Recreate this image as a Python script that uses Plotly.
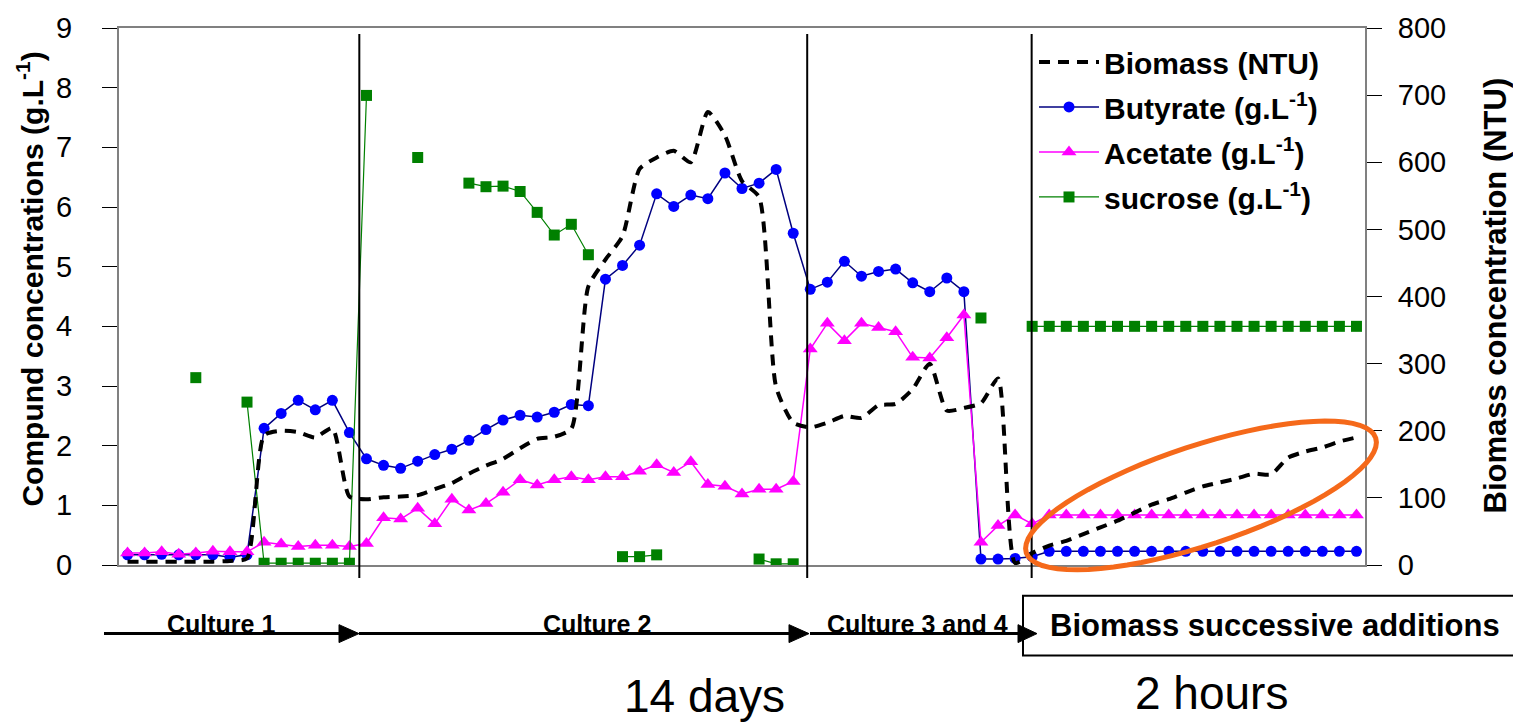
import math
import plotly.graph_objects as go

# ---------------- data ----------------
idx = list(range(73))

butyrate = [0.17, 0.17, 0.18, 0.17, 0.17, 0.17, 0.13, 0.17,
            2.29, 2.54, 2.76, 2.60, 2.76, 2.22, 1.78,
            1.67, 1.62, 1.74, 1.85, 1.94, 2.09, 2.27, 2.43, 2.51, 2.48, 2.56, 2.69, 2.67,
            4.79, 5.02, 5.36, 6.22, 6.01, 6.20, 6.14, 6.57, 6.31, 6.40, 6.63, 5.56,
            4.62, 4.74, 5.09, 4.84, 4.92, 4.96, 4.73, 4.58, 4.81, 4.58,
            0.10, 0.10, 0.11, 0.14] + [0.23] * 19

acetate = [0.20, 0.20, 0.22, 0.18, 0.20, 0.23, 0.22, 0.22,
           0.38, 0.35, 0.31, 0.33, 0.33, 0.31, 0.36,
           0.79, 0.77, 0.95, 0.69, 1.10, 0.92, 1.03, 1.22, 1.43, 1.34, 1.43,
           1.48, 1.43, 1.48, 1.48, 1.57, 1.68, 1.55, 1.73, 1.35, 1.32, 1.19, 1.27, 1.27, 1.40,
           3.62, 4.05, 3.76, 4.05, 3.98, 3.91, 3.48, 3.47, 3.81, 4.19,
           0.38, 0.66, 0.84, 0.69] + [0.84] * 19

biomass = [5, 5, 5, 5, 5, 5, 6, 10,
           193, 200, 198, 190, 204, 102,
           98, 101, 102, 104, 113, 122, 136, 148, 158, 174, 188, 191, 203,
           415, 455, 490, 590, 607, 617, 600, 675, 640, 572, 548, 265, 212,
           205, 212, 222, 219, 238, 240, 262, 300, 230, 234, 241, 278, 3, 18,
           29, 36, 46, 56, 66, 78, 90, 98, 108, 117, 123, 129, 136, 135, 160, 169, 175, 184, 190]

N = None
sucrose = [N, N, N, N, 3.14, N, N, 2.73,
           0.03, 0.03, 0.03, 0.03, 0.03, 0.03, 7.87,
           N, N, 6.83, N, N,
           6.40, 6.34, 6.35, 6.26, 5.91, 5.53, 5.71, 5.20,
           N, 0.14, 0.14, 0.17,
           N, N, N, N, N, 0.10, 0.02, 0.02,
           N, N, N, N, N, N, N, N, N, N,
           4.14, N, N] + [4.0] * 20

phase_breaks = [13.58, 39.82, 52.97]
left_ticks = list(range(0, 10))
right_ticks = list(range(0, 900, 100))

# ---------------- geometry helpers (decorations only) ----------------
W, H = 1513, 723
L, R, T, B = 119, 148, 25, 158
PW, PH = W - L - R, H - T - B
Y0 = T + PH


def px(xp):
    return (xp - L) / PW


def py(yp):
    return (Y0 - yp) / PH


FONT = "Liberation Sans, Arial, sans-serif"

fig = go.Figure()

fig.add_trace(go.Scatter(
    x=idx, y=biomass, yaxis="y2", name="<b>Biomass (NTU)</b>", mode="lines",
    legendgroup="g1",
    line=dict(color="black", width=4, dash="11px,8px", shape="spline", smoothing=0.6),
))
fig.add_trace(go.Scatter(
    x=idx, y=butyrate, name="<b>Butyrate (g.L<sup>-1</sup>)</b>", mode="lines+markers",
    legendgroup="g2",
    line=dict(color="#000080", width=1.5),
    marker=dict(symbol="circle", size=11, color="#0000FF"),
))
fig.add_trace(go.Scatter(
    x=idx, y=acetate, name="<b>Acetate (g.L<sup>-1</sup>)</b>", mode="lines+markers",
    legendgroup="g3",
    line=dict(color="#FF00FF", width=1.5),
    marker=dict(symbol="triangle-up", size=13, color="#FF00FF"),
))
fig.add_trace(go.Scatter(
    x=idx, y=sucrose, name="<b>sucrose (g.L<sup>-1</sup>)</b>", mode="lines+markers",
    legendgroup="g4",
    line=dict(color="#008000", width=1.2),
    marker=dict(symbol="square", size=11, color="#008000"),
))

shapes = []
for b in phase_breaks:
    shapes.append(dict(type="line", xref="x", yref="paper", x0=b, x1=b,
                       y0=py(31), y1=py(578), line=dict(color="black", width=2)))

# orange ellipse
cx, cy, a, bb, ang = 1201, 495, 184, 50, math.radians(-18.3)
pts = []
for k in range(73):
    t = 2 * math.pi * k / 72
    ex = a * math.cos(t)
    ey = bb * math.sin(t)
    xx = cx + ex * math.cos(ang) - ey * math.sin(ang)
    yy = cy + ex * math.sin(ang) + ey * math.cos(ang)
    pts.append((px(xx), py(yy)))
path = "M " + " L ".join(f"{p[0]:.5f},{p[1]:.5f}" for p in pts) + " Z"
shapes.append(dict(type="path", xref="paper", yref="paper", path=path,
                   line=dict(color="#F5691A", width=5)))

# arrows at the bottom
arrows = [(104, 339, 359), (359, 789, 809), (810, 1018, 1037)]
ya = 634
for x0, xh, xt in arrows:
    shapes.append(dict(type="line", xref="paper", yref="paper", x0=px(x0), x1=px(xh + 2),
                       y0=py(ya), y1=py(ya), line=dict(color="black", width=3)))
    tri = (f"M {px(xh):.5f},{py(ya - 9):.5f} L {px(xt):.5f},{py(ya):.5f} "
           f"L {px(xh):.5f},{py(ya + 9):.5f} Z")
    shapes.append(dict(type="path", xref="paper", yref="paper", path=tri,
                       fillcolor="black", line=dict(color="black", width=1)))

# box for successive additions
shapes.append(dict(type="rect", xref="paper", yref="paper", x0=px(1023), x1=px(1540),
                   y0=py(596), y1=py(656), line=dict(color="black", width=2),
                   fillcolor="white", layer="below"))


def ann(text, x, y, size, angle=0):
    return dict(text=text, textangle=angle, x=px(x), y=py(y), xref="paper", yref="paper",
                xanchor="center", yanchor="middle", showarrow=False,
                font=dict(size=size, family=FONT, color="black"))


annotations = [
    ann("<b>Compund concentrations (g.L<sup>-1</sup>)</b>", 30, 278, 30, -90),
    ann("<b>Biomass concentration (NTU)</b>", 1496, 294, 31, -90),
    ann("<b>Culture 1</b>", 221, 624, 25),
    ann("<b>Culture 2</b>", 597, 624, 25),
    ann("<b>Culture 3 and 4</b>", 918, 624, 25),
    ann("<b>Biomass successive additions</b>", 1275, 626, 31),
    ann("14 days", 704, 697, 46),
    ann("2 hours", 1211, 694, 46),
]

fig.update_layout(
    width=W, height=H,
    margin=dict(l=L, r=R, t=T, b=B),
    paper_bgcolor="white", plot_bgcolor="white",
    font=dict(family=FONT, color="black"),
    showlegend=True,
    legend=dict(x=px(1034), y=py(33), xanchor="left", yanchor="top",
                bgcolor="rgba(0,0,0,0)", font=dict(size=30, family=FONT, color="black"),
                itemwidth=60, tracegroupgap=3, traceorder="grouped"),
    xaxis=dict(range=[-0.5, 72.5], showgrid=False, zeroline=False, showticklabels=False,
               ticks="", showline=True, linecolor="#808080", linewidth=2, mirror=True),
    yaxis=dict(range=[0, 9], tickvals=left_ticks, showgrid=False, zeroline=False,
               ticks="outside", ticklen=15, tickcolor="black", tickwidth=1,
               showline=True, linecolor="#808080", linewidth=2, mirror=True,
               tickfont=dict(size=29, family=FONT, color="black"), ticklabelstandoff=24),
    yaxis2=dict(range=[0, 800], tickvals=right_ticks, overlaying="y", side="right",
                showgrid=False, zeroline=False, ticks="outside", ticklen=15,
                tickcolor="black", tickwidth=1, showline=True, linecolor="#808080",
                linewidth=2, tickfont=dict(size=29, family=FONT, color="black"),
                ticklabelstandoff=10),
    shapes=shapes,
    annotations=annotations,
)

fig.write_html("out.html")
